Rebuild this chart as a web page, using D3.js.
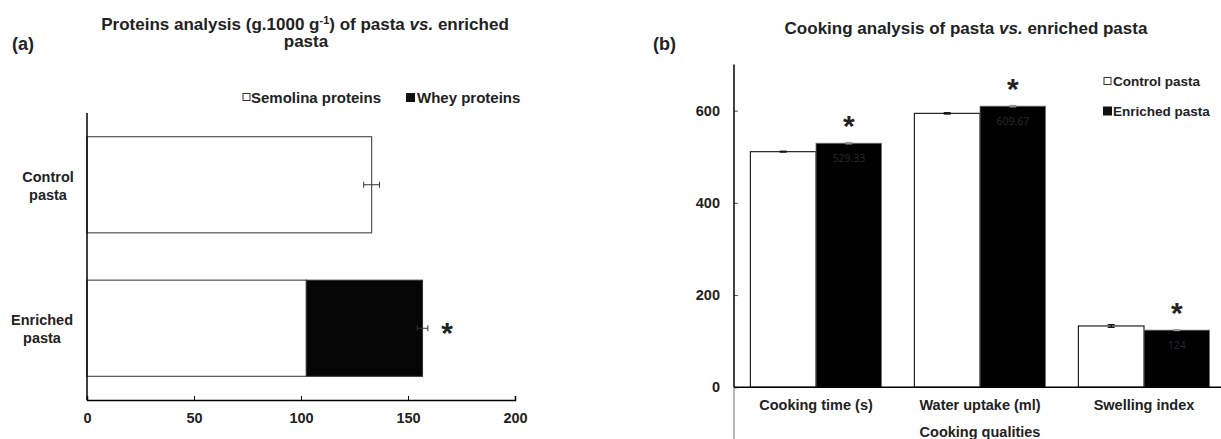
<!DOCTYPE html>
<html>
<head>
<meta charset="utf-8">
<script src="https://cdn.jsdelivr.net/npm/d3@7"></script>
<style>
  body { margin: 0; background: #fff; }
  svg { display: block; font-family: "Liberation Sans", Arial, sans-serif; }
  .bold { font-weight: bold; fill: #222; }
</style>
</head>
<body>
<svg id="chart" width="1221" height="439"></svg>
<script>
// (a) proteines
const proteinCategories = ["Control pasta", "Enriched pasta"];
const semolinaProteins = [133, 102.5];
const wheyProteins = [0, 54.3];
const proteinErrors = [3.7, 2.5];
const proteinStars = [false, true];
const proteinTicks = [0, 50, 100, 150, 200];

// (b) cuisson
const cookingCategories = ["Cooking time (s)", "Water uptake (ml)", "Swelling index"];
const controlValues = [511, 594, 133];
const enrichedValues = [529.33, 609.67, 124];
const controlErrors = [1, 1.5, 3];
const enrichedErrors = [1.5, 1.5, 1];
const enrichedLabels = ["529.33", "609.67", "124"];
const cookingTicks = [0, 200, 400, 600];

const svg = d3.select("#chart");
svg.append("rect").attr("width", 1221).attr("height", 439).attr("fill", "#fff");

const fs = 14.5;

// ---------- Panel (a) ----------
const xA = d3.scaleLinear().domain([0, 200]).range([87, 515]);
const yA = d3.scaleBand().domain(proteinCategories).range([113, 400])
    .paddingInner(0.33).paddingOuter(0.165);

const gA = svg.append("g");

// barres semoule
gA.selectAll(".semo")
    .data(proteinCategories)
    .enter()
    .append("rect")
    .attr("x", xA(0))
    .attr("y", function(d) { return yA(d); })
    .attr("width", function(d, i) { return xA(semolinaProteins[i]) - xA(0); })
    .attr("height", yA.bandwidth())
    .attr("fill", "#fff")
    .attr("stroke", "#555")
    .attr("stroke-width", 1.2);

// barres lactoserum
gA.selectAll(".whey")
    .data(proteinCategories.filter(function(d, i) { return wheyProteins[i] > 0; }))
    .enter()
    .append("rect")
    .attr("x", function(d) { return xA(semolinaProteins[proteinCategories.indexOf(d)]); })
    .attr("y", function(d) { return yA(d); })
    .attr("width", function(d) {
        const i = proteinCategories.indexOf(d);
        return xA(wheyProteins[i]) - xA(0);
    })
    .attr("height", yA.bandwidth())
    .attr("fill", "#050505")
    .attr("stroke", "#333")
    .attr("stroke-width", 1);

// barres d'erreur
proteinCategories.forEach(function(d, i) {
    const total = semolinaProteins[i] + wheyProteins[i];
    const cy = yA(d) + yA.bandwidth() / 2;
    const x1 = xA(total - proteinErrors[i]);
    const x2 = xA(total + proteinErrors[i]);
    const eb = gA.append("g").attr("stroke", "#333").attr("stroke-width", 1);
    eb.append("line").attr("x1", x1).attr("x2", x2).attr("y1", cy).attr("y2", cy);
    eb.append("line").attr("x1", x1).attr("x2", x1).attr("y1", cy - 3).attr("y2", cy + 3);
    eb.append("line").attr("x1", x2).attr("x2", x2).attr("y1", cy - 3).attr("y2", cy + 3);
    if (proteinStars[i]) {
        gA.append("text").attr("class", "bold")
            .attr("x", xA(total + 11.5)).attr("y", cy + 15)
            .attr("text-anchor", "middle").attr("font-size", 30)
            .text("*");
    }
});

// axe x
const axisA = gA.append("g")
    .attr("transform", "translate(0,400)")
    .call(d3.axisBottom(xA).tickValues(proteinTicks).tickSize(-4).tickPadding(13));
axisA.select(".domain").attr("stroke", "#000").attr("stroke-width", 1.5);
axisA.selectAll(".tick line").attr("stroke", "#000");
axisA.selectAll(".tick text").attr("class", "bold").attr("font-size", fs)
    .attr("font-family", null);

// axe y (ligne seule)
gA.append("line").attr("x1", xA(0)).attr("x2", xA(0)).attr("y1", 113).attr("y2", 400)
    .attr("stroke", "#000").attr("stroke-width", 1.5);

// etiquettes de categories
const catLabelA = [["Control", "pasta"], ["Enriched", "pasta"]];
const catXA = [48, 42];
proteinCategories.forEach(function(d, i) {
    const cy = yA(d) + yA.bandwidth() / 2;
    const t = gA.append("text").attr("class", "bold").attr("font-size", fs)
        .attr("text-anchor", "middle");
    t.append("tspan").attr("x", catXA[i]).attr("y", cy - 3).text(catLabelA[i][0]);
    t.append("tspan").attr("x", catXA[i]).attr("y", cy + 15).text(catLabelA[i][1]);
});

// legende (a)
gA.append("rect").attr("x", 243).attr("y", 93.5).attr("width", 7).attr("height", 7)
    .attr("fill", "#fff").attr("stroke", "#333");
gA.append("text").attr("class", "bold").attr("font-size", 15)
    .attr("x", 251).attr("y", 103).text("Semolina proteins");
gA.append("rect").attr("x", 406).attr("y", 93).attr("width", 9).attr("height", 9)
    .attr("fill", "#111");
gA.append("text").attr("class", "bold").attr("font-size", 15)
    .attr("x", 417).attr("y", 103).text("Whey proteins");

// titre (a)
const titleA = gA.append("text").attr("class", "bold").attr("font-size", 17)
    .attr("text-anchor", "middle");
const l1 = titleA.append("tspan").attr("x", 305).attr("y", 30);
l1.append("tspan").text("Proteins analysis (g.1000 g");
l1.append("tspan").attr("font-size", 11).attr("dy", -6).text("-1");
l1.append("tspan").attr("dy", 6).text(") of pasta ");
l1.append("tspan").attr("font-style", "italic").text("vs.");
l1.append("tspan").text(" enriched");
titleA.append("tspan").attr("x", 306).attr("y", 47).text("pasta");

svg.append("text").attr("class", "bold").attr("font-size", 18)
    .attr("x", 12).attr("y", 50).text("(a)");

// ---------- Panel (b) ----------
const xB = d3.scaleBand().domain(cookingCategories).range([734, 1226])
    .paddingInner(0.2).paddingOuter(0.1);
const xSub = d3.scaleBand().domain(["control", "enriched"]).range([0, xB.bandwidth()]);
const yB = d3.scaleLinear().domain([0, 700]).range([387.3, 64.5]);

const gB = svg.append("g");

gB.selectAll(".ctrl")
    .data(cookingCategories)
    .enter()
    .append("rect")
    .attr("x", function(d) { return xB(d) + xSub("control"); })
    .attr("y", function(d, i) { return yB(controlValues[i]); })
    .attr("width", xSub.bandwidth())
    .attr("height", function(d, i) { return yB(0) - yB(controlValues[i]); })
    .attr("fill", "#fff")
    .attr("stroke", "#222")
    .attr("stroke-width", 1.2);

gB.selectAll(".enr")
    .data(cookingCategories)
    .enter()
    .append("rect")
    .attr("x", function(d) { return xB(d) + xSub("enriched"); })
    .attr("y", function(d, i) { return yB(enrichedValues[i]); })
    .attr("width", xSub.bandwidth())
    .attr("height", function(d, i) { return yB(0) - yB(enrichedValues[i]); })
    .attr("fill", "#000")
    .attr("stroke", "#777")
    .attr("stroke-width", 0.8);

// valeurs dans les barres enrichies
gB.selectAll(".vlab")
    .data(cookingCategories)
    .enter()
    .append("text")
    .attr("x", function(d) { return xB(d) + xSub("enriched") + xSub.bandwidth() / 2; })
    .attr("y", function(d, i) { return yB(enrichedValues[i]) + 19; })
    .attr("text-anchor", "middle")
    .attr("font-family", "'Open Sans', sans-serif")
    .attr("font-size", 10.5)
    .attr("fill", "#2b2b2b")
    .text(function(d, i) { return enrichedLabels[i]; });

// barres d'erreur (b)
function drawErrorBar(cx, value, err, color) {
    const eb = gB.append("g").attr("stroke", color).attr("stroke-width", 1.2);
    eb.append("line").attr("x1", cx).attr("x2", cx).attr("y1", yB(value - err)).attr("y2", yB(value + err));
    eb.append("line").attr("x1", cx - 3.5).attr("x2", cx + 3.5).attr("y1", yB(value - err)).attr("y2", yB(value - err));
    eb.append("line").attr("x1", cx - 3.5).attr("x2", cx + 3.5).attr("y1", yB(value + err)).attr("y2", yB(value + err));
}
cookingCategories.forEach(function(d, i) {
    const cxC = xB(d) + xSub("control") + xSub.bandwidth() / 2;
    const cxE = xB(d) + xSub("enriched") + xSub.bandwidth() / 2;
    drawErrorBar(cxC, controlValues[i], controlErrors[i], "#111");
    drawErrorBar(cxE, enrichedValues[i], enrichedErrors[i], "#999");
    gB.append("text").attr("class", "bold")
        .attr("x", cxE).attr("y", yB(enrichedValues[i]) - 22 + 15)
        .attr("text-anchor", "middle").attr("font-size", 30)
        .text("*");
});

// axe y (b)
const axisB = gB.append("g")
    .attr("transform", "translate(734,0)")
    .call(d3.axisLeft(yB).tickValues(cookingTicks).tickSize(-4).tickPadding(14));
axisB.select(".domain").remove();
axisB.selectAll(".tick line").attr("stroke", "#555");
axisB.selectAll(".tick text").attr("class", "bold").attr("font-size", fs)
    .attr("font-family", null);
gB.append("line").attr("x1", 734).attr("x2", 734).attr("y1", 64.5).attr("y2", 387.3)
    .attr("stroke", "#000").attr("stroke-width", 1.5);
gB.append("line").attr("x1", 734).attr("x2", 734).attr("y1", 387.3).attr("y2", 439)
    .attr("stroke", "#888").attr("stroke-width", 1.2);

// axe x (b)
const axisXB = gB.append("g")
    .attr("transform", "translate(0,387.3)")
    .call(d3.axisBottom(xB).tickSize(0).tickPadding(12));
axisXB.select(".domain").remove();
axisXB.selectAll(".tick text").attr("class", "bold").attr("font-size", fs)
    .attr("font-family", null);
gB.append("line").attr("x1", 734).attr("x2", 1221).attr("y1", 387.3).attr("y2", 387.3)
    .attr("stroke", "#000").attr("stroke-width", 1.5);

gB.append("text").attr("class", "bold").attr("font-size", fs)
    .attr("text-anchor", "middle").attr("x", 980).attr("y", 437).text("Cooking qualities");

// legende (b)
gB.append("rect").attr("x", 1104).attr("y", 77.5).attr("width", 7).attr("height", 7)
    .attr("fill", "#fff").attr("stroke", "#333");
gB.append("text").attr("class", "bold").attr("font-size", 13.5)
    .attr("x", 1113).attr("y", 86).text("Control pasta");
gB.append("rect").attr("x", 1103).attr("y", 106.5).attr("width", 9).attr("height", 9)
    .attr("fill", "#111");
gB.append("text").attr("class", "bold").attr("font-size", 13.5)
    .attr("x", 1113).attr("y", 115.5).text("Enriched pasta");

// titre (b)
const titleB = gB.append("text").attr("class", "bold").attr("font-size", 17)
    .attr("text-anchor", "middle").attr("x", 966).attr("y", 34);
titleB.append("tspan").text("Cooking analysis of pasta ");
titleB.append("tspan").attr("font-style", "italic").text("vs.");
titleB.append("tspan").text(" enriched pasta");

svg.append("text").attr("class", "bold").attr("font-size", 18)
    .attr("x", 653).attr("y", 50).text("(b)");
</script>
</body>
</html>
